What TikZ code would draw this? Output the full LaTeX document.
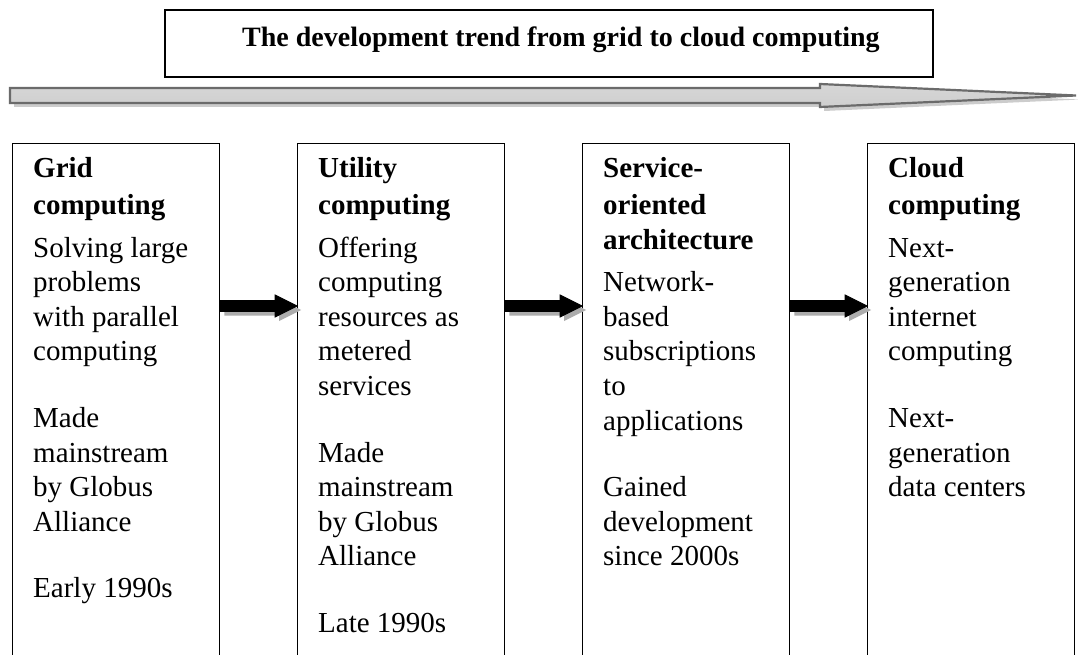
\documentclass[tikz,border=0pt]{standalone}
\usepackage{fontspec}
\setmainfont{Liberation Serif}
\usetikzlibrary{calc}

\tikzset{
  titlebox/.style={draw=black, line width=1.6pt, minimum width=768, minimum height=67, inner sep=0},
  titletext/.style={font=\fontsize{28}{33}\selectfont\bfseries, inner sep=0},
  colbox/.style={draw=black, line width=1.3pt, minimum width=207, minimum height=540, anchor=north west, inner sep=0},
  coltext/.style={anchor=north west, align=left, inner sep=0, font=\fontsize{29}{34.6}\selectfont},
  trendbody/.style={top color=gray!32, middle color=gray!8, bottom color=gray!38, draw=black!58, line width=2.2pt},
  trendshadow/.style={fill=gray!40},
  fatbody/.style={top color=black, middle color=black!62, bottom color=black, draw=black, line width=0.9pt},
  fatshadow/.style={fill=gray!65, transform canvas={shift={(4,4)}}},
}

% thick block arrow between two named points: shadow first, then the shaded body
\newcommand{\fatarrowpath}[2]{%
  (#1) -- ($(#1)+(0,-5.5)$) -- ($(#2)+(-22,-5.5)$) -- ($(#2)+(-22,-11)$) -- (#2)
  -- ($(#2)+(-22,11)$) -- ($(#2)+(-22,5.5)$) -- ($(#1)+(0,5.5)$) -- cycle}
\newcommand{\fatarrow}[2]{%
  \path[fatshadow] \fatarrowpath{#1}{#2};
  \shade[fatbody] \fatarrowpath{#1}{#2};}

\begin{document}
\begin{tikzpicture}[x=1pt, y=-1pt]
  \clip (0,0) rectangle (1078,655);
  \fill[white] (0,0) rectangle (1078,655);

  % heading
  \node[titlebox] (title) at (549,43.5) {};
  \node[titletext, anchor=base] (titletxt) at (561,47) {The development trend from grid to cloud computing};

  % long trend arrow
  \coordinate (trendstart) at (10,95.5);
  \coordinate (trendtip) at (1076,95.5);
  \path[trendshadow, transform canvas={shift={(4,4)}}]
    ($(trendstart)+(0,-7.5)$) -- (820,88) -- (820,84) -- (trendtip) -- (820,107) -- (820,103) -- ($(trendstart)+(0,7.5)$) -- cycle;
  \shade[trendbody]
    ($(trendstart)+(0,-7.5)$) -- (820,88) -- (820,84) -- (trendtip) -- (820,107) -- (820,103) -- ($(trendstart)+(0,7.5)$) -- cycle;

  % the four stages
  \node[colbox] (grid)    at (12,143)  {};
  \node[colbox] (utility) at (297,143) {};
  \node[colbox] (soa)     at (582,143) {};
  \node[colbox] (cloud)   at (867,143) {};

  \node[coltext] (gridtxt) at ($(grid.north west)+(21,14.5)$) {%
    \textbf{Grid}\\[2pt]
    \textbf{computing}\\[8pt]
    Solving large\\
    problems\\
    with parallel\\
    computing\\[32pt]
    Made\\
    mainstream\\
    by Globus\\
    Alliance\\[32pt]
    Early 1990s};

  \node[coltext] (utilitytxt) at ($(utility.north west)+(21,14.5)$) {%
    \textbf{Utility}\\[2pt]
    \textbf{computing}\\[8pt]
    Offering\\
    computing\\
    resources as\\
    metered\\
    services\\[32pt]
    Made\\
    mainstream\\
    by Globus\\
    Alliance\\[32pt]
    Late 1990s};

  \node[coltext] (soatxt) at ($(soa.north west)+(21,14.5)$) {%
    \textbf{Service-}\\[2pt]
    \textbf{oriented}\\
    \textbf{architecture}\\[8pt]
    Network-\\
    based\\
    subscriptions\\
    to\\
    applications\\[32pt]
    Gained\\
    development\\
    since 2000s};

  \node[coltext] (cloudtxt) at ($(cloud.north west)+(21,14.5)$) {%
    \textbf{Cloud}\\[2pt]
    \textbf{computing}\\[8pt]
    Next-\\
    generation\\
    internet\\
    computing\\[32pt]
    Next-\\
    generation\\
    data centers};

  % arrows between the stages
  \path (grid.east |- 0,306)    coordinate (a1s) (utility.west |- 0,306) coordinate (a1e);
  \path (utility.east |- 0,306) coordinate (a2s) (soa.west |- 0,306)     coordinate (a2e);
  \path (soa.east |- 0,306)     coordinate (a3s) (cloud.west |- 0,306)   coordinate (a3e);
  \fatarrow{a1s}{a1e}
  \fatarrow{a2s}{a2e}
  \fatarrow{a3s}{a3e}
\end{tikzpicture}
\end{document}
